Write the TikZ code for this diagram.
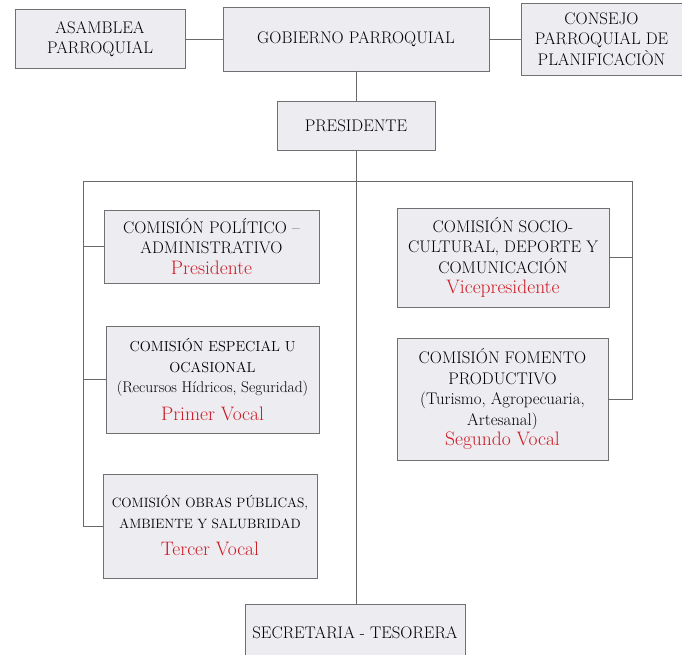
\documentclass[tikz,border=0pt]{standalone}
\usetikzlibrary{positioning}
\definecolor{boxfill}{RGB}{236,236,241}
\definecolor{boxline}{RGB}{112,112,112}
\definecolor{linegray}{RGB}{105,105,105}
\definecolor{rojo}{RGB}{205,26,36}
\newcommand{\cargo}[1]{{\color{rojo}\fontsize{19.5}{21}\selectfont #1}}
\newcommand{\chica}[1]{{\fontsize{14.5}{19}\selectfont #1}}

\begin{document}
\begin{tikzpicture}[x=1pt,y=-1pt,
  caja/.style={draw=boxline, fill=boxfill, line width=0.9pt, align=center, inner sep=2pt,
    font=\rmfamily\fontsize{16.8}{20.5}\selectfont},
  conector/.style={draw=linegray, line width=0.8pt}]
\useasboundingbox (0,0) rectangle (682,654);
\clip (0,0) rectangle (682,654);

\node[caja, minimum width=170pt, minimum height=59pt] (asamblea) at (100,39) {ASAMBLEA\\PARROQUIAL};
\node[caja, minimum width=266pt, minimum height=64pt] (gobierno) at (356,39) {GOBIERNO PARROQUIAL};
\node[caja, minimum width=161pt, minimum height=72pt] (consejo) at (601.5,39) {CONSEJO\\PARROQUIAL DE\\PLANIFICACIÒN};
\node[caja, minimum width=158pt, minimum height=49pt] (presidente) at (356,125.5) {PRESIDENTE};

\node[caja, minimum width=215pt, minimum height=73pt] (politico) at (211.5,246.5)
  {COMISIÓN POLÍTICO –\\ADMINISTRATIVO\\\cargo{Presidente}};
\node[caja, minimum width=213pt, minimum height=107pt] (especial) at (212.5,379.5)
  {\chica{COMISIÓN ESPECIAL U}\\\chica{OCASIONAL}\\
   {\fontsize{15.5}{19}\selectfont (Recursos Hídricos, Seguridad)}\\[7pt]\cargo{Primer Vocal}};
\node[caja, minimum width=214pt, minimum height=104pt] (obras) at (210,526)
  {{\fontsize{13.5}{18}\selectfont COMISIÓN OBRAS PÚBLICAS,}\\{\fontsize{13.5}{18}\selectfont AMBIENTE Y SALUBRIDAD}\\[7pt]\cargo{Tercer Vocal}};

\node[caja, minimum width=212pt, minimum height=99pt] (socio) at (503,257.5)
  {COMISIÓN SOCIO-\\CULTURAL, DEPORTE Y\\COMUNICACIÓN\\\cargo{Vicepresidente}};
\node[caja, minimum width=211pt, minimum height=122pt] (fomento) at (502.5,399)
  {COMISIÓN FOMENTO\\PRODUCTIVO\\(Turismo, Agropecuaria,\\Artesanal)\\\cargo{Segundo Vocal}};

\node[caja, minimum width=220pt, minimum height=58pt] (secretaria) at (355,633) {SECRETARIA - TESORERA};

\coordinate (busL) at (83,181);
\coordinate (busR) at (632,181);

\draw[conector] (asamblea.east) -- (gobierno.west);
\draw[conector] (gobierno.east) -- (consejo.west);
\draw[conector] (gobierno.south) -- (presidente.north);
\draw[conector] (presidente.south) -- (presidente.south |- secretaria.north);
\draw[conector] (busL) -- (busR);
\draw[conector] (busL) |- (obras.west);
\draw[conector] (busR) |- (fomento.east);
\foreach \n in {politico,especial} {
  \draw[conector] (\n.west) -- (\n.west -| busL);
}
\draw[conector] (socio.east) -- (socio.east -| busR);
\end{tikzpicture}
\end{document}
